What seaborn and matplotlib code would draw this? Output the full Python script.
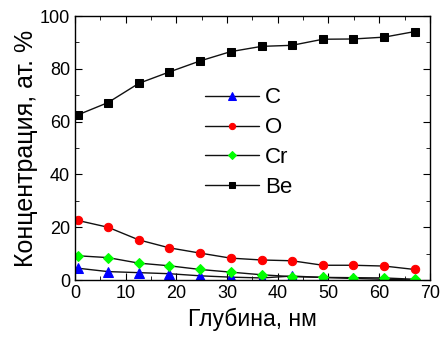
import pandas as pd
import seaborn as sns
import matplotlib.pyplot as plt
from matplotlib.ticker import MultipleLocator

# depth points, nm
depth = [0.5, 6.5, 12.6, 18.6, 24.7, 30.7, 36.8, 42.8, 48.9, 54.9, 61.0, 67.0]

conc_c = [4.5, 3.2, 2.8, 2.4, 1.6, 1.1, 0.8, 1.5, 1.0, 0.6, 0.3, 0.0]
conc_o = [22.6, 20.0, 15.2, 12.2, 10.2, 8.3, 7.6, 7.3, 5.6, 5.6, 5.3, 4.0]
conc_cr = [9.2, 8.5, 6.4, 5.4, 4.0, 3.0, 2.0, 1.3, 1.0, 0.9, 0.8, 0.3]
conc_be = [62.5, 67.2, 74.5, 78.8, 83.0, 86.5, 88.5, 88.9, 91.2, 91.3, 92.0, 94.1]

elements = ["C", "O", "Cr", "Be"]

sns.set_style("ticks")
plt.rcParams['font.family'] = ['Liberation Sans', 'DejaVu Sans']
plt.rcParams['text.color'] = 'black'
plt.rcParams['axes.labelcolor'] = 'black'
plt.rcParams['xtick.color'] = 'black'
plt.rcParams['ytick.color'] = 'black'
plt.rcParams['axes.edgecolor'] = 'black'

df = pd.DataFrame({
    'depth': depth * 4,
    'conc': conc_c + conc_o + conc_cr + conc_be,
    'element': sum([[e] * len(depth) for e in elements], []),
})

# marker style per element, like the Origin original
styles = {
    "C": dict(marker='^', color='#0000ff', ms=7),
    "O": dict(marker='o', color='#ff0000', ms=6),
    "Cr": dict(marker='D', color='#00ff00', ms=5.5),
    "Be": dict(marker='s', color='#000000', ms=5.5),
}

fig = plt.figure(figsize=(4.45, 3.37), dpi=100)
ax = fig.add_axes([0.1685, 0.169, 0.7975, 0.7835])

for el in elements:
    st = styles[el]
    sns.lineplot(data=df[df['element'] == el], x='depth', y='conc', ax=ax,
                 color='#111111', lw=1.0, marker=st['marker'], markersize=st['ms'],
                 markerfacecolor=st['color'], markeredgecolor=st['color'],
                 label=el)

ax.set_xlim(0, 70)
ax.set_ylim(0, 100)
ax.xaxis.set_major_locator(MultipleLocator(10))
ax.xaxis.set_minor_locator(MultipleLocator(5))
ax.yaxis.set_major_locator(MultipleLocator(20))
ax.yaxis.set_minor_locator(MultipleLocator(10))
ax.tick_params(which='both', direction='in', top=True, right=True, labelsize=13)
ax.tick_params(which='major', length=5)
ax.tick_params(which='minor', length=3)
for s in ax.spines.values():
    s.set_linewidth(1.0)

ax.set_xlabel('Глубина, нм', fontsize=16.5, labelpad=4)
ax.set_ylabel('Концентрация, ат. %', fontsize=18, labelpad=1)

ax.legend(loc='center', bbox_to_anchor=(0.49, 0.52), frameon=False, fontsize=16,
          handlelength=2.4, labelspacing=0.4, handletextpad=0.3, markerscale=0.75)

plt.savefig('out.png', dpi=100)
